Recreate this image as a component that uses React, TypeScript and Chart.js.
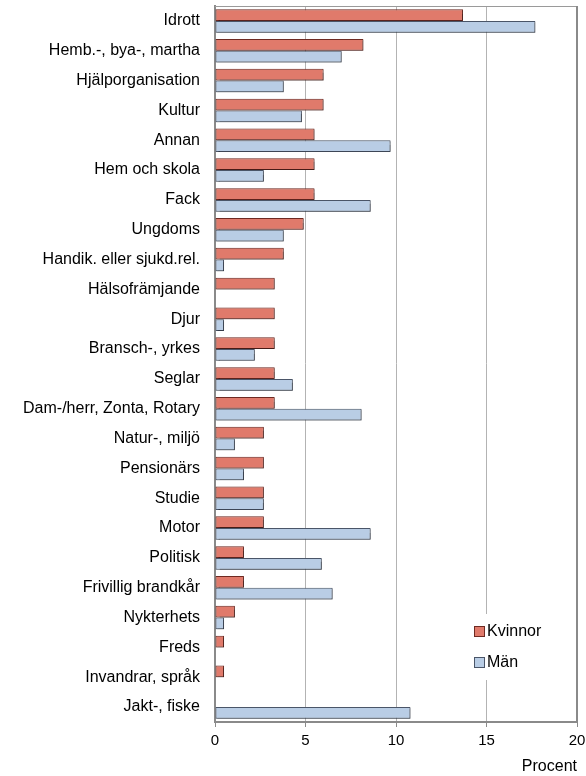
import React, { useEffect, useRef } from "react";
import { Chart, registerables } from "chart.js";

Chart.register(...registerables);

const categories = [
  "Idrott",
  "Hemb.-, bya-, martha",
  "Hjälporganisation",
  "Kultur",
  "Annan",
  "Hem och skola",
  "Fack",
  "Ungdoms",
  "Handik. eller sjukd.rel.",
  "Hälsofrämjande",
  "Djur",
  "Bransch-, yrkes",
  "Seglar",
  "Dam-/herr, Zonta, Rotary",
  "Natur-, miljö",
  "Pensionärs",
  "Studie",
  "Motor",
  "Politisk",
  "Frivillig brandkår",
  "Nykterhets",
  "Freds",
  "Invandrar, språk",
  "Jakt-, fiske",
];

const kvinnor = [13.7, 8.2, 6.0, 6.0, 5.5, 5.5, 5.5, 4.9, 3.8, 3.3, 3.3, 3.3, 3.3, 3.3, 2.7, 2.7, 2.7, 2.7, 1.6, 1.6, 1.1, 0.5, 0.5, 0];
const man = [17.7, 7.0, 3.8, 4.8, 9.7, 2.7, 8.6, 3.8, 0.5, 0, 0.5, 2.2, 4.3, 8.1, 1.1, 1.6, 2.7, 8.6, 5.9, 6.5, 0.5, 0, 0, 10.8];

const xTicks = [0, 5, 10, 15, 20];
const seriesNames = ["Kvinnor", "Män"];
const fills = ["#e07a6b", "#b9cde5"];
const borders = ["#6e2a22", "#4a5568"];

const FONT = "'Liberation Sans', Arial, sans-serif";

export default function App() {
  const ref = useRef<HTMLCanvasElement | null>(null);

  useEffect(() => {
    if (!ref.current) return;

    const framePlugin = {
      id: "frame",
      beforeDatasetsDraw(chart: any) {
        const { ctx } = chart;
        ctx.save();
        ctx.shadowColor = "rgba(0,0,0,0.35)";
        ctx.shadowOffsetX = 1;
        ctx.shadowOffsetY = 1;
        ctx.shadowBlur = 1;
      },
      afterDatasetsDraw(chart: any) {
        const { ctx, chartArea } = chart;
        ctx.restore();
        ctx.save();
        // top border
        ctx.strokeStyle = "#9a9a9a";
        ctx.lineWidth = 1;
        ctx.beginPath();
        ctx.moveTo(chartArea.left, chartArea.top + 0.5);
        ctx.lineTo(chartArea.right, chartArea.top + 0.5);
        ctx.stroke();
        // right border
        ctx.strokeStyle = "#8a8a8a";
        ctx.lineWidth = 2;
        ctx.beginPath();
        ctx.moveTo(chartArea.right, chartArea.top);
        ctx.lineTo(chartArea.right, chartArea.bottom);
        ctx.stroke();
        // legend
        const lx = Math.round(chart.scales.x.getPixelForValue(14.3));
        const ly1 = chartArea.bottom - 90;
        const ly2 = chartArea.bottom - 59;
        ctx.fillStyle = "#ffffff";
        ctx.fillRect(lx - 4, ly1 - 18, 82, 66);
        const rows = [ly1, ly2];
        rows.forEach((y, i) => {
          ctx.fillStyle = fills[i];
          ctx.fillRect(lx + 0.5, y - 5.5, 10, 10);
          ctx.strokeStyle = borders[i];
          ctx.lineWidth = 1;
          ctx.strokeRect(lx + 0.5, y - 5.5, 10, 10);
          ctx.fillStyle = "#000";
          ctx.font = `16px ${FONT}`;
          ctx.textBaseline = "middle";
          ctx.textAlign = "left";
          ctx.fillText(seriesNames[i], lx + 13, y);
        });
        ctx.restore();
      },
    };

    const chart = new Chart(ref.current, {
      type: "bar",
      data: {
        labels: categories,
        datasets: [
          {
            label: seriesNames[0],
            data: kvinnor,
            backgroundColor: fills[0],
            borderColor: borders[0],
            borderWidth: 1,
            borderSkipped: false,
            categoryPercentage: 0.785,
            barPercentage: 1,
          },
          {
            label: seriesNames[1],
            data: man,
            backgroundColor: fills[1],
            borderColor: borders[1],
            borderWidth: 1,
            borderSkipped: false,
            categoryPercentage: 0.785,
            barPercentage: 1,
          },
        ],
      },
      options: {
        indexAxis: "y",
        responsive: false,
        animation: false,
        layout: { padding: { top: 6, right: 9, left: 0, bottom: 0 } },
        plugins: {
          legend: { display: false },
          tooltip: { enabled: false },
        },
        scales: {
          x: {
            min: 0,
            max: 20,
            afterBuildTicks(scale: any) {
              scale.ticks = xTicks.map((v) => ({ value: v }));
            },
            afterFit(scale: any) {
              scale.height = 54;
              scale.paddingLeft = 0;
              scale.paddingRight = 0;
            },
            grid: {
              color: (c: any) =>
                c.tick && (c.tick.value === 0 || c.tick.value === 20) ? "rgba(0,0,0,0)" : "#b3b3b3",
              lineWidth: 1,
              drawTicks: true,
              tickLength: 5,
              tickColor: "#8a8a8a",
            },
            border: { display: true, color: "#8a8a8a", width: 2 },
            ticks: {
              color: "#000",
              font: { family: FONT, size: 15 },
              padding: 5,
              maxRotation: 0,
            },
            title: {
              display: true,
              text: "Procent",
              align: "end",
              color: "#000",
              font: { family: FONT, size: 16 },
              padding: { top: 0, bottom: 0 },
            },
          },
          y: {
            afterFit(scale: any) {
              scale.width = 215;
              scale.paddingTop = 0;
              scale.paddingBottom = 0;
            },
            grid: { display: false, drawTicks: false },
            border: { display: true, color: "#8a8a8a", width: 2 },
            ticks: {
              color: "#000",
              font: { family: FONT, size: 16 },
              padding: 15,
              autoSkip: false,
            },
          },
        },
      },
      plugins: [framePlugin],
    });

    return () => chart.destroy();
  }, []);

  return (
    <div style={{ position: "fixed", left: 0, top: 0, width: 586, height: 776, background: "#fff" }}>
      <canvas ref={ref} width={586} height={776} style={{ width: 586, height: 776 }} />
    </div>
  );
}
